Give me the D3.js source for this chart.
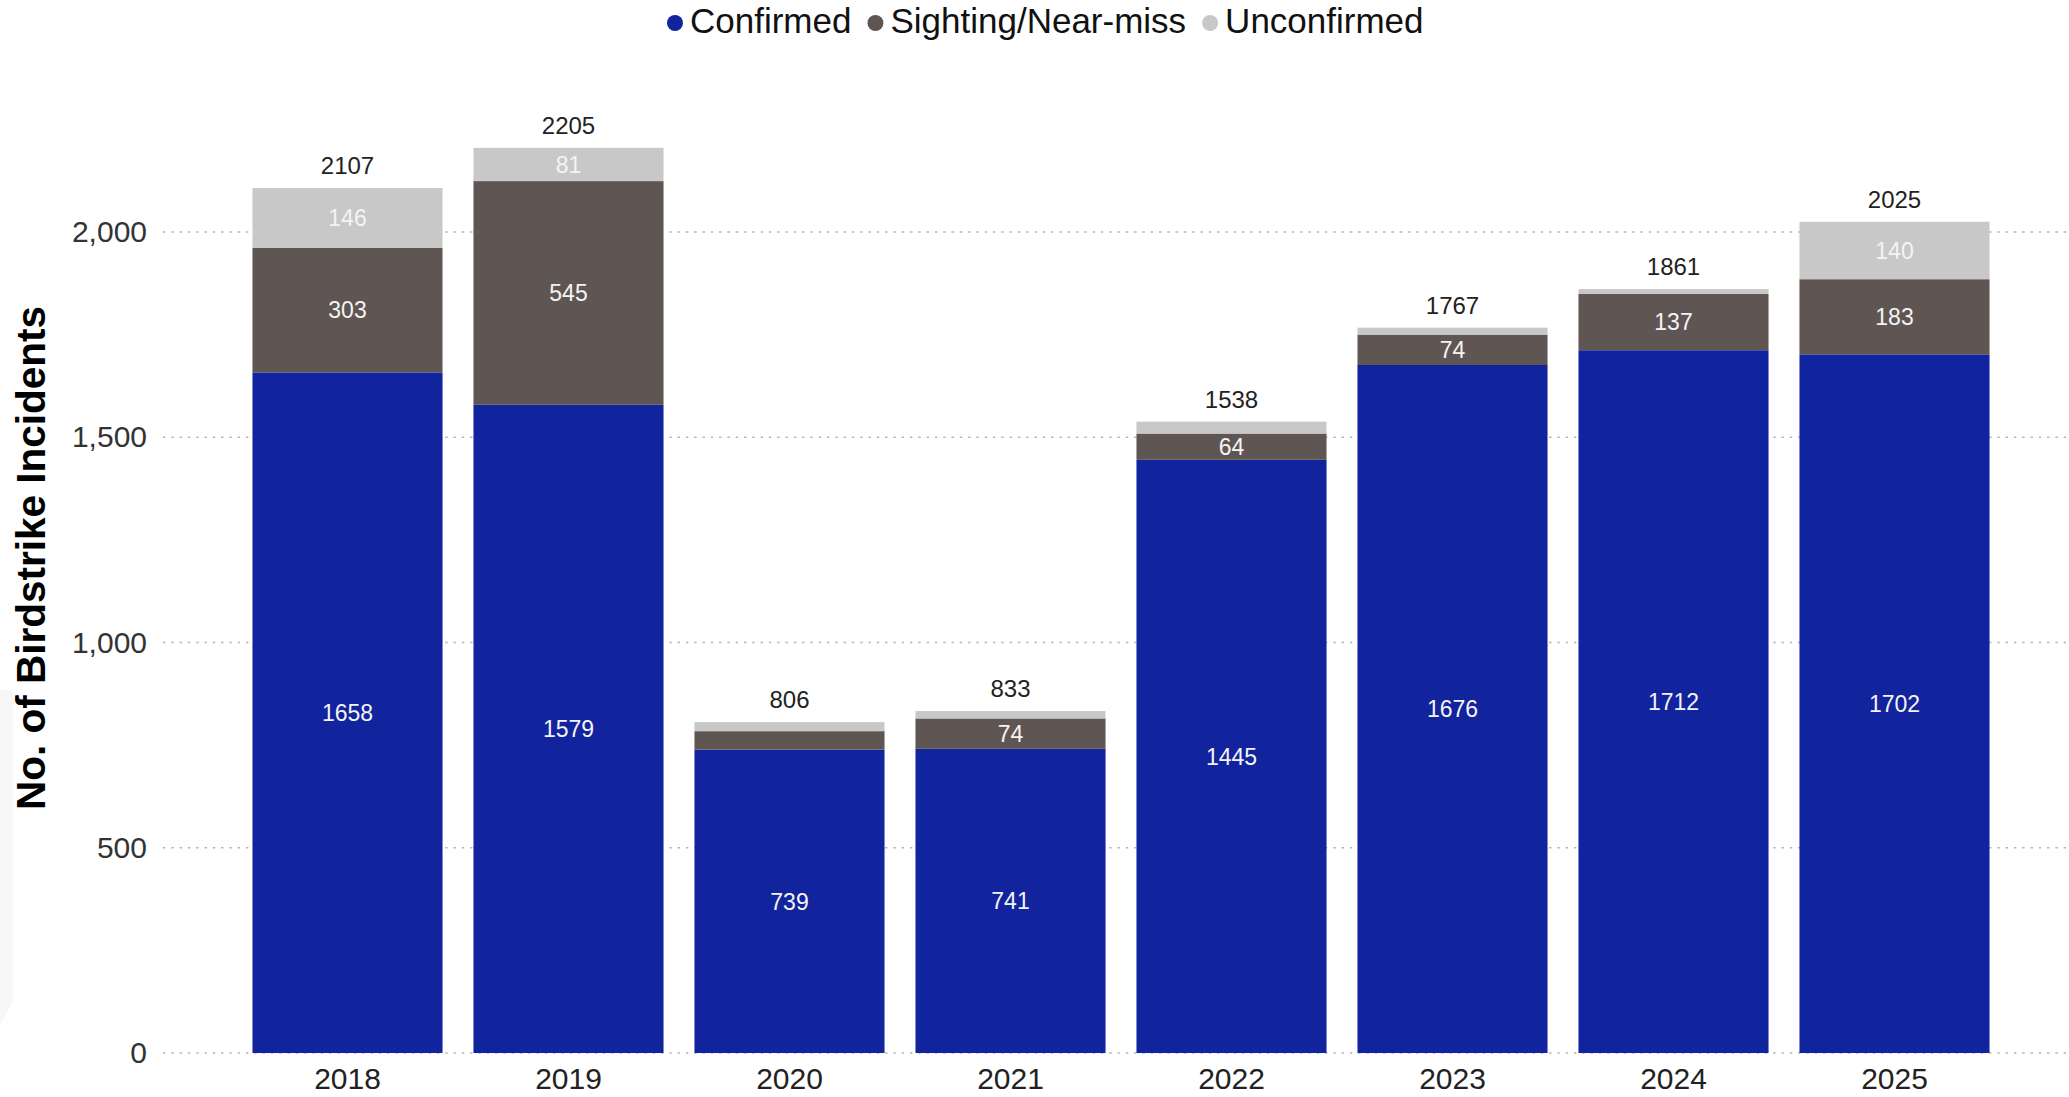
<!DOCTYPE html>
<html>
<head>
<meta charset="utf-8">
<script src="https://cdn.jsdelivr.net/npm/d3@7"></script>
<style>
  html, body { margin: 0; padding: 0; background: #fff; }
  svg { display: block; font-family: "Liberation Sans", Arial, Helvetica, sans-serif; }
</style>
</head>
<body>
<svg id="chart" width="2069" height="1097"></svg>
<script>
const years = ["2018", "2019", "2020", "2021", "2022", "2023", "2024", "2025"];
const confirmed = [1658, 1579, 739, 741, 1445, 1676, 1712, 1702];
const sighting = [303, 545, 45, 74, 64, 74, 137, 183];
const unconfirmed = [146, 81, 22, 18, 29, 17, 12, 140];
const totals = [2107, 2205, 806, 833, 1538, 1767, 1861, 2025];
const seriesNames = ["Confirmed", "Sighting/Near-miss", "Unconfirmed"];
const seriesColors = ["#12239E", "#5F5654", "#C8C8C8"];
const yTicks = [0, 500, 1000, 1500, 2000];

const svg = d3.select("#chart");
const W = 2069, H = 1097;

// faint side panel shadow
svg.append("path")
  .attr("d", "M0,690 L13,690 L13,1000 Q6,1016 0,1024 Z")
  .attr("fill", "#f7f7f7");

const x = d3.scaleBand().domain(years).range([237, 2005]).paddingInner(0.14).paddingOuter(0.07);
const y = d3.scaleLinear().domain([0, 2000]).range([1053, 232]);

// gridlines
const grid = svg.append("g").attr("class", "grid");
grid.selectAll("line").data(yTicks).join("line")
  .attr("x1", 163).attr("x2", W)
  .attr("y1", d => y(d)).attr("y2", d => y(d))
  .attr("stroke", "#b4b4b4").attr("stroke-width", 1.6)
  .attr("stroke-dasharray", "2.4,5.9");

// y axis labels via d3 axis
const yAxis = d3.axisLeft(y).tickValues(yTicks).tickFormat(d3.format(",")).tickSize(0).tickPadding(0);
const yg = svg.append("g").attr("transform", "translate(147,0)").call(yAxis);
yg.select(".domain").remove();
yg.selectAll("text").attr("font-size", 30).attr("fill", "#333").attr("font-family", "Liberation Sans, Arial, sans-serif");

// x axis labels
const xAxis = d3.axisBottom(x).tickSize(0).tickPadding(0);
const xg = svg.append("g").attr("transform", "translate(0,1068)").call(xAxis);
xg.select(".domain").remove();
xg.selectAll("text").attr("font-size", 30).attr("fill", "#222").attr("dy", "0.71em").attr("font-family", "Liberation Sans, Arial, sans-serif");

// stacked data
const rows = years.map((yr, i) => ({ year: yr, Confirmed: confirmed[i], "Sighting/Near-miss": sighting[i], Unconfirmed: unconfirmed[i], total: totals[i] }));
const stack = d3.stack().keys(seriesNames)(rows);

const layers = svg.append("g").selectAll("g").data(stack).join("g")
  .attr("fill", (d, i) => seriesColors[i]);
layers.selectAll("rect").data(d => d).join("rect")
  .attr("x", d => x(d.data.year))
  .attr("width", x.bandwidth())
  .attr("y", d => y(d[1]))
  .attr("height", d => y(d[0]) - y(d[1]));

// segment labels
const labelG = svg.append("g");
stack.forEach((layer, li) => {
  layer.forEach(d => {
    const v = d[1] - d[0];
    const h = y(d[0]) - y(d[1]);
    if (h < 24) return;
    labelG.append("text")
      .attr("x", x(d.data.year) + x.bandwidth() / 2)
      .attr("y", (y(d[0]) + y(d[1])) / 2)
      .attr("dy", "0.36em")
      .attr("text-anchor", "middle")
      .attr("font-size", 23)
      .attr("fill", "#f4f4f4")
      .text(v);
  });
});

// total labels
svg.append("g").selectAll("text").data(rows).join("text")
  .attr("x", d => x(d.year) + x.bandwidth() / 2)
  .attr("y", d => y(d.total) - 14)
  .attr("text-anchor", "middle")
  .attr("font-size", 24)
  .attr("fill", "#222")
  .text(d => d.total);

// y axis title
svg.append("text")
  .attr("transform", "translate(31,558) rotate(-90)")
  .attr("text-anchor", "middle")
  .attr("dominant-baseline", "central")
  .attr("font-size", 40.5)
  .attr("font-weight", "bold")
  .attr("fill", "#000")
  .text("No. of Birdstrike Incidents");

// legend
const legend = svg.append("g");
let lx = 667;
seriesNames.forEach((name, i) => {
  legend.append("circle").attr("cx", lx + 8).attr("cy", 23).attr("r", 8).attr("fill", seriesColors[i]);
  const t = legend.append("text").attr("x", lx + 23).attr("y", 33)
    .attr("font-size", 35).attr("fill", "#111").text(name);
  lx = lx + 23 + t.node().getComputedTextLength() + 16;
});
</script>
</body>
</html>
